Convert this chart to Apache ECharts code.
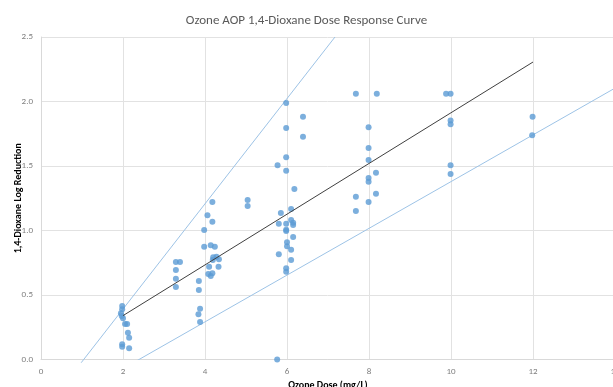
<!DOCTYPE html>
<html><head><meta charset="utf-8">
<script src="https://cdn.jsdelivr.net/npm/echarts@6/dist/echarts.min.js"></script>
<style>html,body{margin:0;padding:0;background:#fff}#c{width:613px;height:387px}</style>
</head><body><div id="c"></div>
<script>
const titleText = "Ozone AOP 1,4-Dioxane Dose Response Curve";
const xName = "Ozone Dose (mg/L)";
const yName = "1,4-Dioxane Log Reduction";

const doseX = [
  1.98,1.98,1.95,1.97,2.0,2.05,2.1,2.12,2.15,1.98,1.98,2.15,
  3.29,3.39,3.29,3.29,3.29,
  3.85,3.85,3.88,3.84,3.88,
  3.98,3.98,4.06,4.18,4.18,4.14,4.24,
  4.2,4.28,4.34,4.19,4.1,4.33,4.08,4.14,4.18,
  5.04,5.04,
  5.98,6.39,5.98,6.39,5.98,5.77,5.98,6.18,6.1,5.85,5.8,5.98,6.1,6.15,6.15,5.98,5.98,6.15,6.0,6.0,5.8,6.1,6.1,5.98,5.98,5.76,
  7.68,8.19,7.99,7.99,7.99,8.17,7.99,7.99,7.68,8.17,7.99,7.68,
  9.88,9.99,9.99,9.99,9.99,9.99,
  11.99,11.98
];
const logReduction = [
  0.415,0.39,0.358,0.337,0.319,0.275,0.275,0.208,0.169,0.118,0.099,0.087,
  0.756,0.756,0.694,0.626,0.562,
  0.608,0.539,0.394,0.35,0.291,
  1.004,0.874,1.118,1.221,1.068,0.885,0.874,
  0.792,0.797,0.777,0.771,0.719,0.719,0.663,0.647,0.668,
  1.237,1.19,
  1.988,1.882,1.795,1.727,1.567,1.505,1.464,1.322,1.167,1.136,1.053,1.053,1.081,1.06,1.043,1.006,0.996,0.95,0.909,0.878,0.816,0.851,0.771,0.707,0.681,0.0,
  2.06,2.06,1.8,1.64,1.547,1.448,1.407,1.378,1.262,1.285,1.221,1.151,
  2.06,2.06,1.852,1.824,1.505,1.438,
  1.881,1.738
];
const trendX = [2, 12];
const trendY = [0.34, 2.306];
const upperX = [0.98, 7.17];
const upperY = [-0.025, 2.5];
const lowerX = [2.28, 14.2];
const lowerY = [-0.02, 2.14];

const xTicks = [0, 2, 4, 6, 8, 10, 12, 14];
const yTicks = [0, 0.5, 1.0, 1.5, 2.0, 2.5];

const pts = doseX.map((x, i) => [x, logReduction[i]]);
const pair = (xs, ys) => xs.map((x, i) => [x, ys[i]]);

const font = "Calibri, Carlito, 'Liberation Sans Narrow', 'Open Sans', sans-serif";
const chart = echarts.init(document.getElementById('c'), null, {renderer: 'canvas'});
chart.setOption({
  animation: false,
  backgroundColor: '#ffffff',
  title: {
    text: titleText, left: 'center', top: 9,
    textStyle: {fontFamily: font, fontSize: 13, fontWeight: 'normal', color: '#595959'}
  },
  grid: {left: 41, top: 37, right: -2, bottom: 27.5, containLabel: false, outerBoundsMode: 'none'},
  xAxis: {
    type: 'value', min: xTicks[0], max: xTicks[xTicks.length - 1], interval: 2,
    name: xName, nameLocation: 'middle', nameGap: 21, nameMoveOverlap: false,
    nameTextStyle: {fontFamily: font, fontSize: 10, fontWeight: 'bold', color: '#000'},
    axisLine: {show: true, lineStyle: {color: '#d9d9d9'}},
    axisTick: {show: false},
    axisLabel: {fontFamily: font, fontSize: 9, color: '#7f7f7f', margin: 8, hideOverlap: false},
    splitLine: {show: true, lineStyle: {color: '#e2e2e2'}}
  },
  yAxis: {
    type: 'value', min: yTicks[0], max: yTicks[yTicks.length - 1], interval: 0.5,
    name: yName, nameLocation: 'middle', nameGap: 18, nameRotate: 90, nameMoveOverlap: false,
    nameTextStyle: {fontFamily: font, fontSize: 10, fontWeight: 'bold', color: '#000'},
    axisLine: {show: true, lineStyle: {color: '#d9d9d9'}},
    axisTick: {show: false},
    axisLabel: {fontFamily: font, fontSize: 9, color: '#7f7f7f', margin: 8,
      formatter: v => v.toFixed(1)},
    splitLine: {show: true, lineStyle: {color: '#e2e2e2'}}
  },
  series: [
    {type: 'line', data: pair(upperX, upperY), symbol: 'none', clip: false,
     lineStyle: {color: '#9dc3e6', width: 1}, z: 2},
    {type: 'line', data: pair(lowerX, lowerY), symbol: 'none', clip: true,
     lineStyle: {color: '#9dc3e6', width: 1}, z: 2},
    {type: 'scatter', data: pts, symbol: 'circle', symbolSize: 6,
     itemStyle: {color: '#5b9bd5'}, z: 3},
    {type: 'line', data: pair(trendX, trendY), symbol: 'none',
     lineStyle: {color: '#404040', width: 1}, z: 4}
  ]
});
</script></body></html>
